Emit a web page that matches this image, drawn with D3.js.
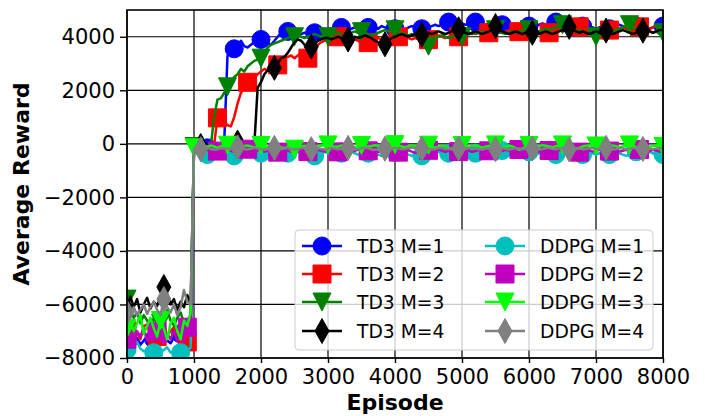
<!DOCTYPE html>
<html><head><meta charset="utf-8">
<script src="https://cdn.jsdelivr.net/npm/d3@7"></script>
<style>
body{margin:0;background:#fff}
svg{display:block}
text{font-family:"DejaVu Sans",sans-serif}
</style>
</head><body>
<svg id="chart" width="705" height="416"></svg>
<script>
// Average reward per training episode, sampled every 50 episodes (0 .. 8000)
const episodeStep = 50;

const td3M1 = [
-7300,-7100,-7400,-7250,-7500,-7350,-7200,-7450,-7300,-7550,
-7400,-7150,-7350,-7450,-7250,-7300,-7100,-7400,-7300,-7200,
-100,-50,-120,-80,-150,-60,-100,-90,-30,0,
3300,3450,3550,3700,3850,3650,3600,3700,3800,3850,
3900,3850,3750,3700,3850,4000,4150,4200,4200,4150,
4100,4050,4100,4150,4100,4150,4150,4200,4250,4200,
4300,4250,4300,4350,4350,4300,4250,4300,4350,4300,
4250,4300,4350,4300,4350,4300,4400,4350,4300,4350,
4300,4350,4300,4250,4350,4400,4350,4300,4300,4350,
4350,4400,4450,4400,4450,4500,4550,4500,4450,4450,
4500,4450,4450,4500,4550,4500,4450,4450,4500,4450,
4400,4350,4450,4450,4400,4350,4400,4450,4400,4450,
4400,4350,4400,4450,4500,4450,4450,4500,4550,4500,
4400,4350,4400,4350,4300,4350,4400,4350,4400,4350,
4300,4350,4400,4350,4300,4350,4400,4450,4400,4350,
4400,4350,4400,4450,4400,4350,4300,4350,4400,4350,
4400];

const td3M2 = [
-7000,-6900,-7200,-7050,-7300,-6800,-6750,-7100,-6950,-7200,
-7050,-6900,-7150,-7000,-6850,-7100,-7250,-6950,-7400,-7300,
-150,-100,-50,-120,-80,-100,-50,970,900,850,
700,650,1000,1500,1900,2100,2300,2400,2500,2600,
2700,2800,2750,2900,3000,2950,3100,3200,3250,3300,
3200,3300,3400,3300,3200,3400,3550,3700,3800,3850,
3900,3950,3900,4000,3900,3850,3800,3850,3900,3850,
3800,3750,3780,3850,3900,3950,3900,3950,4000,3950,
4000,4000,4050,4000,3950,3900,3950,3900,3850,3900,
3890,3950,4000,4050,4000,3950,4000,4050,4000,4000,
4050,4100,4150,4100,4150,4200,4150,4100,4150,4200,
4150,4200,4150,4200,4250,4200,4150,4190,4200,4150,
4200,4250,4200,4150,4200,4150,4150,4200,4250,4300,
4250,4300,4350,4300,4350,4370,4300,4250,4300,4250,
4300,4250,4300,4260,4250,4300,4350,4300,4350,4300,
4350,4300,4350,4370,4400,4350,4300,4350,4400,4350,
4300];

const td3M3 = [
-5800,-6200,-6500,-6300,-6700,-6400,-6600,-6900,-6500,-6300,
-6700,-6450,-6200,-6600,-6800,-6500,-6300,-6700,-6600,-6400,
-100,-50,-100,-80,-60,-100,1000,1650,1700,1900,
2130,2300,2500,2600,2800,2700,2900,3000,3100,3150,
3200,3400,3600,3700,3750,3800,3850,3900,3950,4000,
4000,4050,4000,3950,4000,4050,4100,4050,4000,4050,
4000,4050,4100,4150,4100,4050,4100,4150,4200,4150,
4190,4150,4100,4050,4100,4150,4200,4250,4200,4250,
4260,4200,4150,4100,4050,4100,4050,4000,3950,3800,
3650,3800,3950,4000,4050,4000,3950,4000,4050,4000,
4000,4050,4100,4150,4100,4150,4200,4150,4200,4250,
4260,4200,4150,4100,4150,4200,4150,4200,4250,4200,
4260,4200,4150,4200,4250,4300,4250,4300,4350,4400,
4450,4350,4300,4250,4200,4250,4200,4150,4100,4050,
4000,4100,4150,4200,4150,4200,4250,4300,4350,4400,
4450,4350,4300,4250,4200,4250,4200,4150,4200,4100,
4150];

const td3M4 = [
-6200,-5700,-6100,-5800,-6300,-6000,-5750,-6150,-5900,-6050,
-5700,-5350,-5600,-6000,-5800,-6200,-5900,-6100,-5650,-6000,
-100,-50,-80,-100,-60,-40,-80,-100,-50,-30,
-60,-20,30,50,-50,-80,-100,-40,-50,2100,
2300,2600,2750,2700,2840,3000,3200,3250,3400,3600,
3800,3900,3850,3700,3650,3630,3750,3850,3900,3950,
3950,3900,3950,4000,3950,3950,3900,3950,4000,3950,
4000,4050,4000,3950,3850,3800,3750,3720,3850,3950,
4000,4050,4100,4050,4000,4050,4100,4050,4075,4100,
4150,4100,4150,4200,4150,4100,4150,4200,4250,4280,
4200,4150,4100,4150,4200,4150,4100,4150,4200,4250,
4400,4250,4200,4150,4100,4150,4200,4150,4100,4150,
4200,4150,4150,4100,4150,4200,4150,4100,4150,4200,
4250,4200,4370,4250,4200,4150,4200,4150,4100,4150,
4200,4150,4100,4230,4150,4100,4150,4200,4250,4200,
4150,4100,4150,4200,4230,4250,4200,4150,4200,4250,
4250];

const ddpgM1 = [
-7700,-7800,-7600,-7400,-7650,-7750,-7700,-7600,-7800,-7650,
-7750,-7700,-7600,-7800,-7750,-7650,-7800,-7700,-7750,-7600,
-250,-300,-350,-300,-400,-350,-300,-400,-350,-300,
-350,-400,-450,-400,-350,-300,-350,-400,-350,-300,
-350,-400,-350,-300,-350,-400,-450,-400,-350,-400,
-350,-300,-350,-400,-450,-500,-450,-400,-350,-300,
-350,-400,-350,-300,-350,-400,-350,-300,-350,-400,
-450,-400,-350,-300,-350,-400,-450,-400,-350,-300,
-300,-250,-300,-350,-400,-450,-400,-450,-450,-350,
-250,-300,-350,-300,-250,-300,-350,-300,-250,-300,
-350,-300,-250,-300,-350,-400,-350,-300,-250,-300,
-350,-300,-250,-300,-350,-300,-350,-400,-350,-300,
-300,-350,-400,-350,-300,-250,-300,-350,-400,-350,
-300,-350,-400,-350,-300,-350,-400,-350,-300,-350,
-400,-350,-300,-350,-400,-350,-300,-350,-400,-450,
-400,-350,-300,-350,-400,-350,-300,-350,-400,-450,
-400];

const ddpgM2 = [
-7300,-7100,-7400,-7000,-7200,-6900,-7350,-7100,-7300,-7000,
-7250,-7450,-7100,-7300,-7000,-7350,-7200,-7400,-6850,-6900,
-200,-280,-320,-260,-220,-250,-300,-270,-310,-240,
-210,-260,-300,-340,-290,-240,-200,-260,-310,-250,
-230,-290,-260,-210,-250,-310,-270,-220,-240,-300,
-320,-260,-210,-240,-290,-330,-260,-220,-250,-290,
-250,-210,-240,-300,-270,-220,-240,-290,-260,-210,
-240,-300,-260,-220,-250,-310,-270,-300,-240,-210,
-250,-310,-260,-220,-240,-290,-340,-300,-250,-220,
-240,-290,-260,-210,-250,-300,-260,-220,-240,-290,
-260,-210,-240,-300,-270,-220,-240,-300,-260,-220,
-250,-300,-260,-220,-240,-310,-270,-210,-250,-290,
-260,-220,-240,-300,-260,-210,-250,-290,-270,-230,
-240,-300,-260,-210,-250,-310,-270,-220,-240,-290,
-260,-220,-250,-300,-270,-210,-240,-290,-260,-220,
-240,-300,-260,-210,-250,-310,-260,-220,-250,-290,
-260];

const ddpgM3 = [
-6900,-6600,-7000,-6700,-6400,-7100,-6800,-6500,-6900,-7200,
-6600,-6900,-7300,-6700,-6500,-7000,-7300,-6600,-6800,-6300,
-150,-100,-50,-80,-120,-60,-100,-150,-90,-60,
-50,-100,-150,-200,-120,-80,-60,-100,-140,-90,
-60,-80,-120,-100,-50,-90,-130,-160,-120,-80,
-200,-150,-100,-80,-60,-90,-120,-100,-70,-50,
-40,-80,-120,-100,-60,-90,-140,-180,-130,-90,
-60,-90,-120,-80,-50,-70,-110,-90,-60,-40,
-30,-70,-100,-130,-90,-60,-80,-120,-90,-60,
-50,-90,-140,-110,-70,-100,-160,-200,-150,-100,
-60,-80,-120,-90,-60,-100,-140,-110,-80,-50,
-40,-90,-130,-100,-70,-100,-150,-220,-180,-120,
-60,-90,-110,-80,-50,-70,-100,-130,-90,-60,
-40,-80,-120,-160,-200,-150,-100,-70,-60,-50,
-80,-110,-150,-120,-90,-60,-90,-130,-100,-70,
-40,-80,-120,-150,-200,-160,-110,-80,-60,-90,
-100];

const ddpgM4 = [
-6300,-6500,-6100,-6400,-6200,-6000,-6350,-6100,-5900,-6200,
-6400,-5800,-6100,-6300,-6000,-6400,-6100,-5460,-5900,-6000,
-150,-180,-200,-170,-150,-190,-220,-200,-170,-160,
-180,-200,-150,-130,-160,-190,-210,-180,-150,-170,
-200,-220,-190,-160,-150,-180,-200,-170,-150,-180,
-210,-190,-160,-140,-170,-200,-180,-160,-190,-210,
-180,-150,-170,-200,-190,-160,-150,-180,-210,-190,
-160,-140,-170,-200,-220,-190,-160,-180,-200,-170,
-150,-170,-200,-190,-160,-140,-170,-200,-180,-160,
-180,-210,-190,-160,-150,-180,-200,-170,-150,-170,
-200,-190,-160,-140,-170,-200,-210,-180,-160,-190,
-200,-170,-150,-180,-210,-190,-160,-170,-200,-180,
-150,-170,-200,-220,-190,-160,-150,-180,-200,-170,
-160,-190,-210,-180,-150,-170,-200,-190,-160,-150,
-180,-200,-170,-150,-180,-210,-190,-160,-170,-200,
-180,-150,-170,-200,-190,-160,-180,-200,-170,-150,
-180];

const seriesLabels = ["TD3 M=1","TD3 M=2","TD3 M=3","TD3 M=4",
                      "DDPG M=1","DDPG M=2","DDPG M=3","DDPG M=4"];
const xTicks = [0,1000,2000,3000,4000,5000,6000,7000,8000];
const yTicks = [-8000,-6000,-4000,-2000,0,2000,4000];

// ---- styling ----
const seriesValues = [td3M1, td3M2, td3M3, td3M4, ddpgM1, ddpgM2, ddpgM3, ddpgM4];
const colors  = ["#0000ff","#ff0000","#008000","#000000","#00bfbf","#bf00bf","#00ff00","#808080"];
const shapes  = ["circle","square","tdown","thin","circle","square","tdown","thin"];
const markEvery = [8,9,10,11,8,9,10,11];

const plot = {left:127, right:663, top:10, bottom:358};
const x = d3.scaleLinear().domain([0,8000]).range([plot.left, plot.right]);
const y = d3.scaleLinear().domain([-8000,5000]).range([plot.bottom, plot.top]);

const svg = d3.select("#chart");
svg.append("rect").attr("width",705).attr("height",416).attr("fill","#fff");

svg.append("defs").append("clipPath").attr("id","plotClip")
  .append("rect").attr("x",plot.left).attr("y",plot.top)
  .attr("width",plot.right-plot.left).attr("height",plot.bottom-plot.top);

// grid
const grid = svg.append("g").attr("stroke","#000").attr("stroke-width",1.2);
grid.selectAll(".gx").data(xTicks).join("line")
  .attr("x1",d=>x(d)).attr("x2",d=>x(d)).attr("y1",plot.top).attr("y2",plot.bottom);
grid.selectAll(".gy").data(yTicks).join("line")
  .attr("x1",plot.left).attr("x2",plot.right).attr("y1",d=>y(d)).attr("y2",d=>y(d));

function markerPath(shape){
  switch(shape){
    case "circle": return d3.symbol(d3.symbolCircle, Math.PI*9*9)();
    case "square": return "M-9,-9H9V9H-9Z";
    case "tdown":  return "M-9,-9L9,-9L0,9Z";
    case "thin":   return "M0,-12.5L7,0L0,12.5L-7,0Z";
  }
}

const line = d3.line().x(d=>x(d.ep)).y(d=>y(d.v));
const layer = svg.append("g").attr("clip-path","url(#plotClip)");

seriesValues.forEach((vals,i)=>{
  const pts = vals.map((v,k)=>({ep:k*episodeStep, v}));
  const g = layer.append("g");
  g.append("path").datum(pts).attr("d",line)
    .attr("fill","none").attr("stroke",colors[i]).attr("stroke-width",2.5)
    .attr("stroke-linejoin","round").attr("stroke-linecap","butt");
  g.selectAll("path.m").data(pts.filter((d,k)=>k%markEvery[i]===0)).join("path")
    .attr("class","m")
    .attr("d",markerPath(shapes[i]))
    .attr("transform",d=>`translate(${x(d.ep)},${y(d.v)})`)
    .attr("fill",colors[i]).attr("stroke",colors[i]).attr("stroke-width",1);
});

// frame
svg.append("rect").attr("x",plot.left).attr("y",plot.top)
  .attr("width",plot.right-plot.left).attr("height",plot.bottom-plot.top)
  .attr("fill","none").attr("stroke","#000").attr("stroke-width",1.6);

// axes
const fmt = d3.format("d");
const xAxis = svg.append("g").attr("transform",`translate(0,${plot.bottom})`)
  .call(d3.axisBottom(x).tickValues(xTicks).tickFormat(fmt).tickSize(5).tickPadding(6));
const yAxis = svg.append("g").attr("transform",`translate(${plot.left},0)`)
  .call(d3.axisLeft(y).tickValues(yTicks).tickFormat(fmt).tickSize(7).tickPadding(5));
[xAxis,yAxis].forEach(a=>{
  a.select(".domain").remove();
  a.selectAll(".tick line").attr("stroke","#000").attr("stroke-width",1.4);
  a.selectAll(".tick text").attr("fill","#000")
    .style("font-family","'DejaVu Sans',sans-serif").style("font-size","21px");
});

svg.append("text").attr("x",(plot.left+plot.right)/2).attr("y",410)
  .attr("text-anchor","middle").style("font-size","22px").style("font-weight","bold")
  .text("Episode");
svg.append("text").attr("transform",`translate(29,${(plot.top+plot.bottom)/2}) rotate(-90)`)
  .attr("text-anchor","middle").style("font-size","22px").style("font-weight","bold")
  .text("Average Reward");

// legend
const legend = svg.append("g");
legend.append("rect").attr("x",295).attr("y",230).attr("width",358).attr("height",120)
  .attr("rx",4).attr("fill","#fff").attr("fill-opacity",0.8)
  .attr("stroke","#cccccc").attr("stroke-width",1);
const rowY = [246,274,302,331];
const colX = [302,485];
seriesLabels.forEach((lab,i)=>{
  const cx = colX[Math.floor(i/4)], cy = rowY[i%4];
  const g = legend.append("g");
  g.append("line").attr("x1",cx).attr("x2",cx+40).attr("y1",cy).attr("y2",cy)
    .attr("stroke",colors[i]).attr("stroke-width",2.5);
  g.append("path").attr("d",markerPath(shapes[i]))
    .attr("transform",`translate(${cx+20},${cy})`)
    .attr("fill",colors[i]).attr("stroke",colors[i]).attr("stroke-width",1);
  g.append("text").attr("x",cx+55).attr("y",cy).attr("dy","0.36em")
    .style("font-size","18.7px").attr("fill","#000").text(lab);
});
</script>
</body></html>
